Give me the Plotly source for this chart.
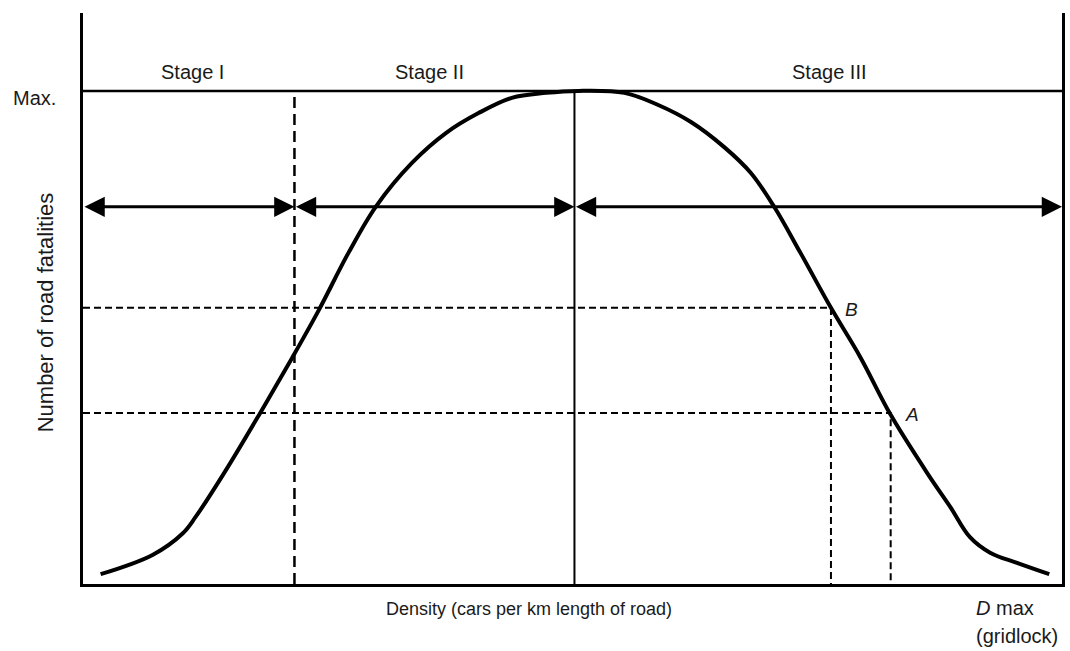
import plotly.graph_objects as go

# --- data (abstract units: density 0..100 = D max, fatalities 0..100 = Max.) ---
density = [1.8, 7.1, 10.2, 11.5, 14.6, 18.1, 21.4, 24.1, 27.1, 29.9, 33.6, 37.1,
           40.4, 43.8, 47.3, 50.6, 55.3, 58.7, 62.1, 65.5, 68.2, 70.6, 73.3, 76.4,
           79.4, 82.5, 86.3, 88.6, 90.6, 92.7, 95.4, 98.7]
fatalities = [2.0, 5.9, 10.3, 13.6, 23.1, 34.7, 46.0, 55.6, 67.1, 76.5, 85.4, 91.5,
              95.5, 98.6, 99.6, 100.0, 99.6, 97.2, 93.7, 88.6, 83.4, 76.5, 67.1, 56.0,
              46.0, 34.3, 22.3, 15.6, 9.5, 6.3, 4.3, 2.0]

stage_bounds = [0, 21.6, 50.2, 100]
stage_labels = ["Stage I", "Stage II", "Stage III"]
stage_label_x = [11.2, 35.4, 76.3]
stage_label_y = 103.9
max_value = 100
arrow_level = 76.5

point_labels = ["B", "A"]
point_x = [76.4, 82.5]
point_y = [56.0, 34.7]

x_title = "Density (cars per km length of road)"
y_title = "Number of road fatalities"
max_label = "Max."
dmax_label = "<i>D</i> max"
gridlock_label = "(gridlock)"

FONT = "Liberation Sans, Arial, Helvetica, sans-serif"
TXT = "#1a1a1a"

fig = go.Figure()

# guide lines for B and A
for px, py in zip(point_x, point_y):
    fig.add_trace(go.Scatter(x=[0, px, px], y=[py, py, 0], mode="lines",
                             line=dict(color="black", width=2, dash="7px,4px"),
                             hoverinfo="skip", showlegend=False))

# Stage I / II boundary (dashed)
fig.add_trace(go.Scatter(x=[stage_bounds[1], stage_bounds[1]], y=[0, max_value],
                         mode="lines", line=dict(color="black", width=2.5, dash="11px,6px"),
                         hoverinfo="skip", showlegend=False))
# Stage II / III boundary (solid)
fig.add_trace(go.Scatter(x=[stage_bounds[2], stage_bounds[2]], y=[0, max_value],
                         mode="lines", line=dict(color="black", width=2),
                         hoverinfo="skip", showlegend=False))
# Max line
fig.add_trace(go.Scatter(x=[0, 100], y=[max_value, max_value], mode="lines",
                         line=dict(color="black", width=2.5),
                         hoverinfo="skip", showlegend=False))

# fatality curve
fig.add_trace(go.Scatter(x=density, y=fatalities, mode="lines",
                         line=dict(color="black", width=4, shape="spline", smoothing=1.0),
                         hoverinfo="skip", showlegend=False))

annotations = []
# double-headed arrows for stages
for a, b in zip(stage_bounds[:-1], stage_bounds[1:]):
    annotations.append(dict(x=b, y=arrow_level, ax=a, ay=arrow_level,
                            xref="x", yref="y", axref="x", ayref="y",
                            text="", showarrow=True, arrowhead=2, startarrowhead=2,
                            arrowside="end+start", arrowsize=1.35, startarrowsize=1.35,
                            arrowwidth=3, arrowcolor="black", standoff=0, startstandoff=0))

for lbl, lx in zip(stage_labels, stage_label_x):
    annotations.append(dict(x=lx, y=stage_label_y, xref="x", yref="y", text=lbl,
                            showarrow=False, font=dict(family=FONT, size=20, color=TXT)))

for lbl, px, py in zip(point_labels, point_x, point_y):
    annotations.append(dict(x=px, y=py, xref="x", yref="y", text=f"<i>{lbl}</i>",
                            showarrow=False, xanchor="left", xshift=12, yshift=-2,
                            font=dict(family=FONT, size=19, color=TXT)))

annotations.append(dict(x=0, y=98.6, xref="paper", yref="y", text=max_label,
                        showarrow=False, xanchor="right", xshift=-25,
                        font=dict(family=FONT, size=20, color=TXT)))
annotations.append(dict(x=0.456, y=-0.022, xref="paper", yref="paper", text=x_title,
                        showarrow=False, yanchor="top",
                        font=dict(family=FONT, size=18, color=TXT)))
annotations.append(dict(x=0.910, y=-0.020, xref="paper", yref="paper", text=dmax_label,
                        showarrow=False, xanchor="left", yanchor="top",
                        font=dict(family=FONT, size=20, color=TXT)))
annotations.append(dict(x=0.910, y=-0.068, xref="paper", yref="paper", text=gridlock_label,
                        showarrow=False, xanchor="left", yanchor="top",
                        font=dict(family=FONT, size=20, color=TXT)))
annotations.append(dict(x=-0.0387, y=0.476, xref="paper", yref="paper", text=y_title,
                        showarrow=False, textangle=-90, xanchor="center",
                        font=dict(family=FONT, size=22, color=TXT)))

fig.update_layout(
    width=1070, height=651,
    margin=dict(l=83, r=5, t=13, b=67),
    paper_bgcolor="white", plot_bgcolor="white",
    showlegend=False,
    annotations=annotations,
    xaxis=dict(range=[0, 100], showgrid=False, zeroline=False, showticklabels=False,
               ticks="", showline=True, linecolor="black", linewidth=3, mirror=False),
    yaxis=dict(range=[0, 115.8], showgrid=False, zeroline=False, showticklabels=False,
               ticks="", showline=True, linecolor="black", linewidth=3, mirror=True),
)

fig.write_html(
    "out.html",
    config={"displayModeBar": False},
    post_script="document.body.style.margin='0';document.body.style.overflow='hidden';",
)
